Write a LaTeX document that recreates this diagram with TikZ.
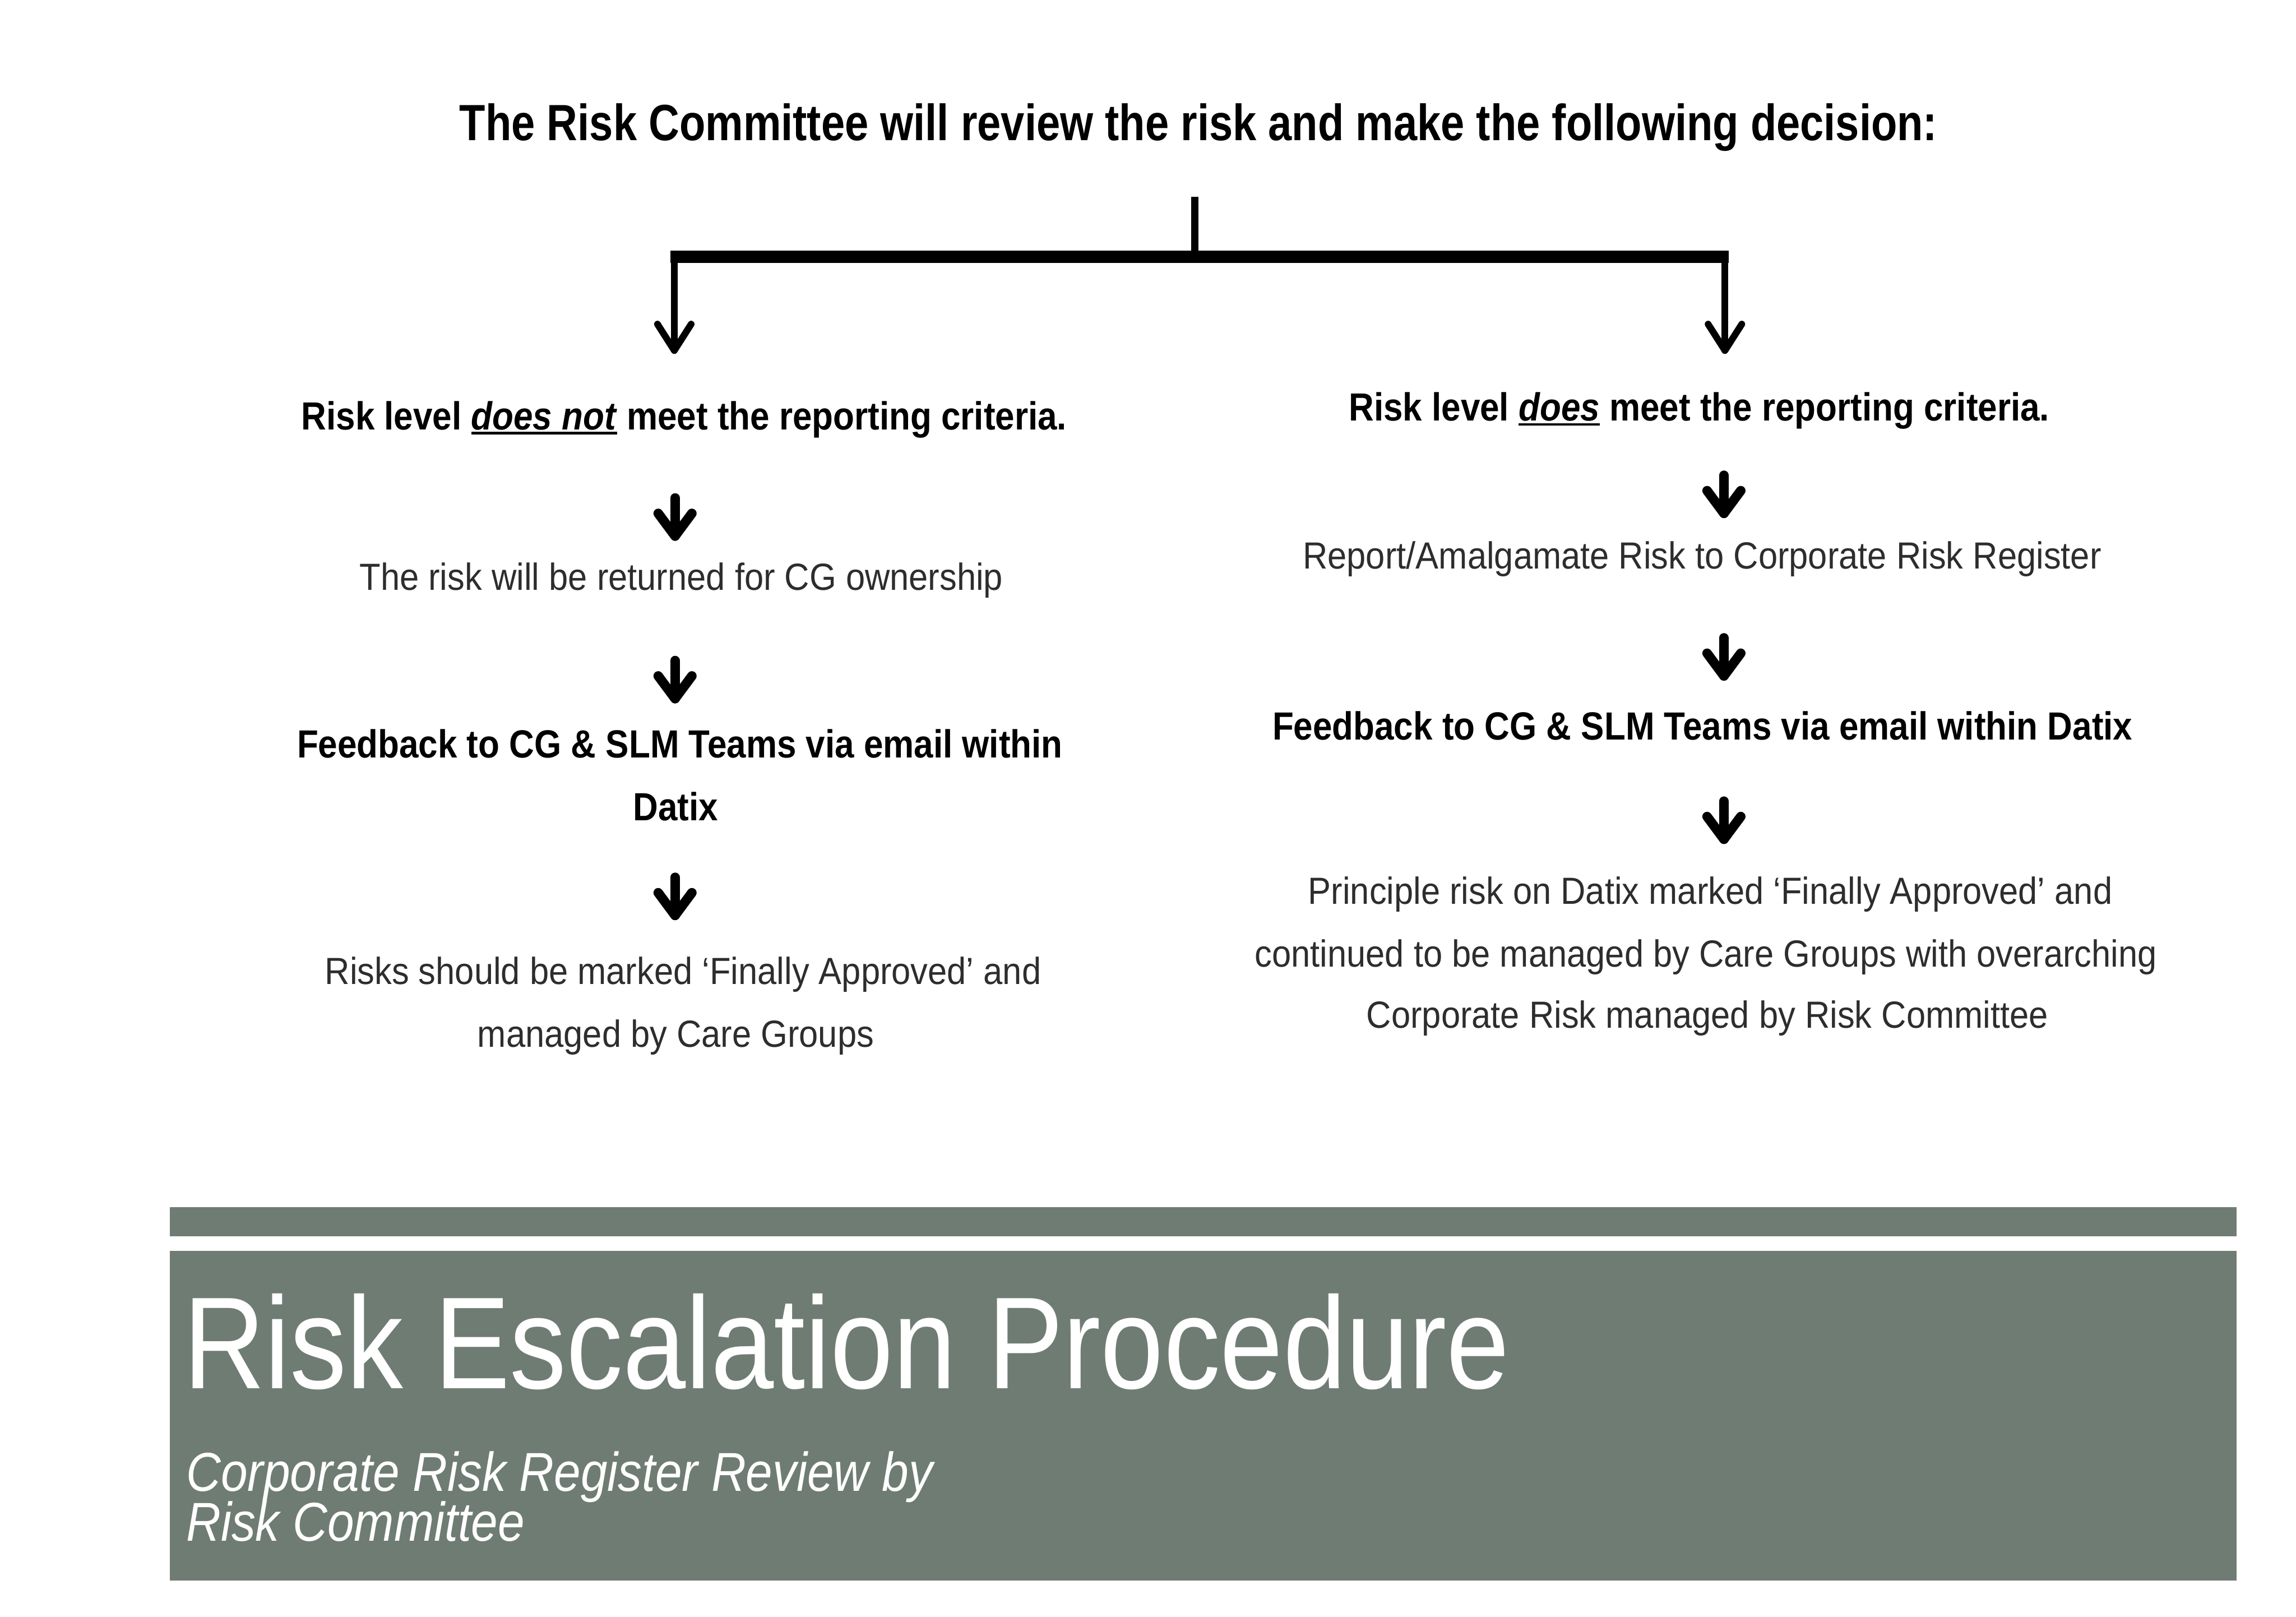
\documentclass[tikz,border=0pt]{standalone}
\usepackage{fontspec}
\setmainfont{Liberation Sans}
\newfontfamily\titlefont[FakeStretch=0.835]{Liberation Sans}
\newfontfamily\headfont[FakeStretch=0.885]{Liberation Sans}
\newfontfamily\bodyfont[FakeStretch=0.912]{Liberation Sans}
\newfontfamily\bannerfont[FakeStretch=0.864]{Liberation Sans}
\newfontfamily\subfont[FakeStretch=0.876]{Liberation Sans}
\usetikzlibrary{calc}
\definecolor{bannergreen}{RGB}{111,124,116}
\definecolor{bodygray}{RGB}{45,45,45}
\newsavebox\ulbox
\newcommand\myul[1]{\sbox\ulbox{#1}\rlap{\rule[-3.2pt]{\wd\ulbox}{1.6pt}}\usebox\ulbox}
\newcommand\barbhead[4]{\draw[#1] ($(#2)+(-#3,-#4)$) -- (#2) -- ($(#2)+(#3,-#4)$);}
\tikzset{
  txt/.style={inner sep=0pt, anchor=base},
  ttl/.style={txt, font=\titlefont\bfseries\fontsize{34.8}{40}\selectfont},
  head/.style={txt, font=\headfont\bfseries\fontsize{26.8}{32}\selectfont},
  body/.style={txt, text=bodygray, font=\bodyfont\fontsize{25.8}{31}\selectfont},
  bannertitle/.style={inner sep=0pt, anchor=base west, text=white, font=\bannerfont\fontsize{89.4}{100}\selectfont},
  bannersub/.style={inner sep=0pt, anchor=base west, text=white, font=\subfont\itshape\fontsize{37.4}{40}\selectfont},
  banner/.style={fill=bannergreen},
  stemline/.style={line width=5pt, line cap=butt},
  barline/.style={line width=8.5pt, line cap=butt},
  branchline/.style={line width=4.6pt, line cap=round, line join=round},
  smallarrow/.style={line width=6.5pt, line cap=round, line join=round}
}
\begin{document}
\begin{tikzpicture}[x=1pt, y=-1pt]
\useasboundingbox (0,0) rectangle (1568,1104);

% title
\node[ttl] (title) at (818.5,95.8) {The Risk Committee will review the risk and make the following decision:};

% branching connector
\coordinate (stemtop) at (816,134.4);
\coordinate (barmid) at (816,175.3);
\coordinate (barL) at (458,175.3);
\coordinate (barR) at (1180.5,175.3);
\coordinate (brL) at (460.5,177);
\coordinate (tipL) at (460.5,239.3);
\coordinate (brR) at (1178,177);
\coordinate (tipR) at (1178,239.3);
\draw[stemline] (stemtop) -- (barmid);
\draw[barline] (barL) -- (barR);
\draw[branchline] (brL) -- (tipL);
\barbhead{branchline}{tipL}{11.5}{18}
\draw[branchline] (brR) -- (tipR);
\barbhead{branchline}{tipR}{11.5}{18}

% left column
\node[head] (lh) at (467.2,293.3) {Risk level \myul{\textit{does not}} meet the reporting criteria.};
\node[body] (l1) at (465.3,402.8) {The risk will be returned for CG ownership};
\node[head] (l2a) at (464.3,517.4) {Feedback to CG \& SLM Teams via email within};
\node[head] (l2b) at (461.3,560.3) {Datix};
\node[body] (l3a) at (466.5,671.9) {Risks should be marked ‘Finally Approved’ and};
\node[body] (l3b) at (461.5,714.7) {managed by Care Groups};

% right column
\node[head] (rh) at (1160.4,287.3) {Risk level \myul{\textit{does}} meet the reporting criteria.};
\node[body] (r1) at (1162.4,388.3) {Report/Amalgamate Risk to Corporate Risk Register};
\node[head] (r2) at (1162.7,505) {Feedback to CG \& SLM Teams via email within Datix};
\node[body] (r3a) at (1168,617.3) {Principle risk on Datix marked ‘Finally Approved’ and};
\node[body] (r3b) at (1165,660) {continued to be managed by Care Groups with overarching};
\node[body] (r3c) at (1166,701.8) {Corporate Risk managed by Risk Committee};

% small arrows left
\coordinate (la1s) at (461,340); \coordinate (la1e) at (461,366);
\coordinate (la2s) at (461,451); \coordinate (la2e) at (461,477);
\coordinate (la3s) at (461,599); \coordinate (la3e) at (461,625);
% small arrows right
\coordinate (ra1s) at (1177.3,324.5); \coordinate (ra1e) at (1177.3,350.5);
\coordinate (ra2s) at (1177.3,435.5); \coordinate (ra2e) at (1177.3,461.5);
\coordinate (ra3s) at (1177.3,547); \coordinate (ra3e) at (1177.3,573);
\foreach \a in {la1,la2,la3,ra1,ra2,ra3}{
  \draw[smallarrow] (\a s) -- (\a e);
  \barbhead{smallarrow}{\a e}{11.5}{15.5}
}

% banner
\fill[banner] (116,824.2) rectangle (1527.4,844.2);
\fill[banner] (116,853.9) rectangle (1527.4,1079.2);
\node[bannertitle] (bt) at (125,948) {Risk Escalation Procedure};
\node[bannersub] (bs1) at (127,1018) {Corporate Risk Register Review by};
\node[bannersub] (bs2) at (127,1052) {Risk Committee};
\end{tikzpicture}
\end{document}
